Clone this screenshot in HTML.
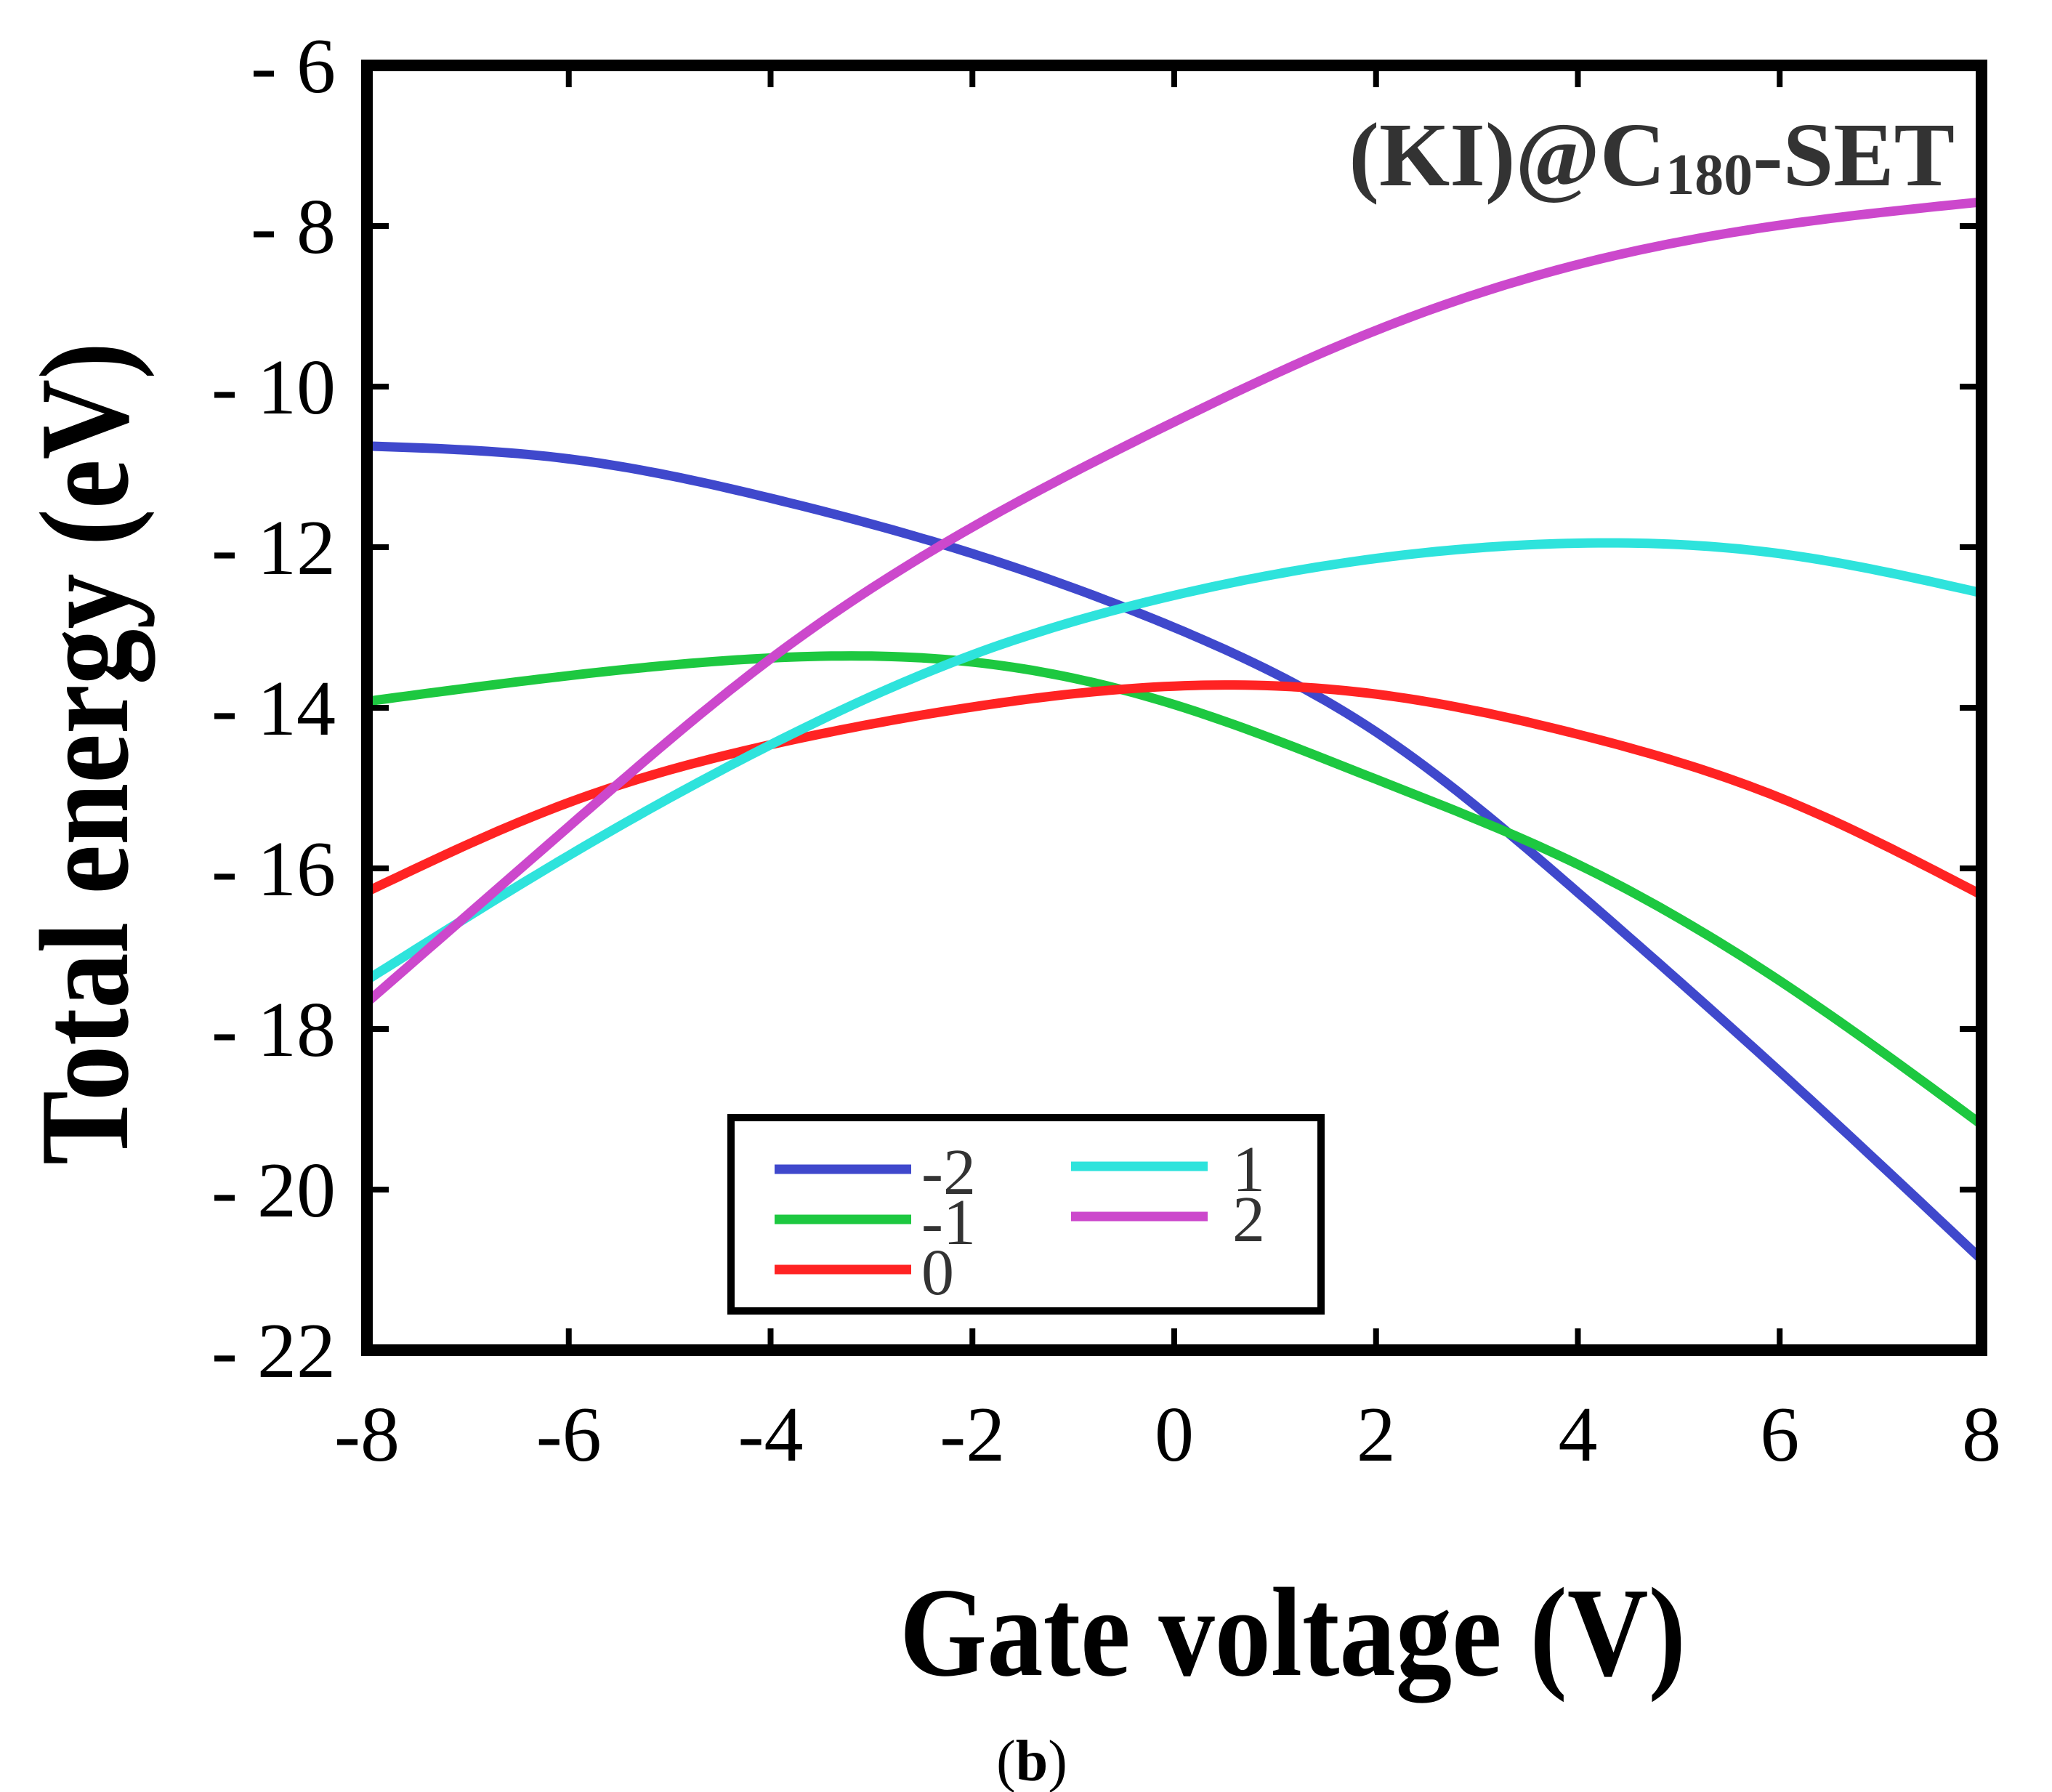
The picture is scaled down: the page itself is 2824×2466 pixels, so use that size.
<!DOCTYPE html>
<html><head><meta charset="utf-8"><style>
html,body{margin:0;padding:0;background:#fff;}
svg{display:block;}
</style></head><body>
<svg id="chart" width="2824" height="2466" viewBox="0 0 2824 2466" xmlns="http://www.w3.org/2000/svg" font-family="'Liberation Serif', serif">
<rect width="2824" height="2466" fill="#fff"/>
<g id="series"></g>
<g id="ticks"></g>
<rect x="505" y="90" width="2222" height="1768" fill="none" stroke="#000" stroke-width="16"/>
<text x="2690" y="255" text-anchor="end" font-weight="bold" font-size="125" fill="#333">(KI)@C<tspan font-size="80" dy="12">180</tspan><tspan dy="-12">-SET</tspan></text>
<g>
<rect x="1006" y="1538" width="812" height="266" fill="#fff" stroke="#000" stroke-width="10"/>
<g id="legend-items"></g>
</g>
<text transform="translate(175,1037) rotate(-90)" text-anchor="middle" font-weight="bold" font-size="175" textLength="1132" lengthAdjust="spacingAndGlyphs">Total energy (eV)</text>
<text x="1779" y="2305" text-anchor="middle" font-weight="bold" font-size="175" textLength="1082" lengthAdjust="spacingAndGlyphs">Gate voltage (V)</text>
<text x="1420" y="2450" text-anchor="middle" font-size="80">(<tspan font-weight="bold">b</tspan>)</text>
</svg>
<script>
const xTicks=[-8,-6,-4,-2,0,2,4,6,8];
const yTicks=[-6,-8,-10,-12,-14,-16,-18,-20,-22];
const voltages=[-8,-6,-4,-2,0,2,4,6,8];
const seriesNames=['-2','-1','0','1','2'];
const eMinus2=[-10.74,-10.9,-11.39,-12.08,-13.0,-14.3,-16.3,-18.53,-20.87];
const eMinus1=[-13.92,-13.6,-13.38,-13.43,-13.96,-14.89,-15.95,-17.4,-19.19];
const eZero=[-16.29,-15.18,-14.46,-13.99,-13.73,-13.83,-14.33,-15.12,-16.33];
const ePlus1=[-17.39,-15.84,-14.46,-13.34,-12.6,-12.14,-11.95,-12.08,-12.57];
const ePlus2=[-17.67,-15.48,-13.39,-11.75,-10.44,-9.3,-8.48,-7.99,-7.7];
const colors=['#3f48cc','#1dc840','#ff2323','#2ee3dc','#cc48cc'];
const NS='http://www.w3.org/2000/svg';
const X0=505,X1=2727,Y0=90,Y1=1858;
function sx(v){return X0+(v+8)/16*(X1-X0);}
function sy(v){return Y0+(-6-v)/16*(Y1-Y0);}
const ticksG=document.getElementById('ticks');
xTicks.forEach(t=>{
  const x=sx(t);
  [[Y1,Y1-30],[Y0,Y0+30]].forEach(p=>{
    const l=document.createElementNS(NS,'line');
    l.setAttribute('x1',x);l.setAttribute('x2',x);l.setAttribute('y1',p[0]);l.setAttribute('y2',p[1]);
    l.setAttribute('stroke','#000');l.setAttribute('stroke-width','8');
    
    
    ticksG.appendChild(l);
  });
  const tx=document.createElementNS(NS,'text');
  tx.setAttribute('x',x);tx.setAttribute('y',2010);tx.setAttribute('text-anchor','middle');tx.setAttribute('font-size','108');
  tx.textContent=t;
  
  
  ticksG.appendChild(tx);
});
yTicks.forEach(t=>{
  const y=sy(t);
  [[X0,X0+30],[X1,X1-30]].forEach(p=>{
    const l=document.createElementNS(NS,'line');
    l.setAttribute('y1',y);l.setAttribute('y2',y);l.setAttribute('x1',p[0]);l.setAttribute('x2',p[1]);
    l.setAttribute('stroke','#000');l.setAttribute('stroke-width','8');
    
    
    ticksG.appendChild(l);
  });
  const tx=document.createElementNS(NS,'text');
  tx.setAttribute('x',462);tx.setAttribute('y',y+37);tx.setAttribute('text-anchor','end');tx.setAttribute('font-size','108');
  tx.textContent='- '+Math.abs(t);
  
  
  ticksG.appendChild(tx);
});
// natural cubic spline through data points
function spline(xs,ys){
  const n=xs.length,h=[],al=[],l=[1],mu=[0],z=[0],c=new Array(n).fill(0),b=[],d=[];
  for(let i=0;i<n-1;i++)h.push(xs[i+1]-xs[i]);
  for(let i=1;i<n-1;i++)al[i]=3/h[i]*(ys[i+1]-ys[i])-3/h[i-1]*(ys[i]-ys[i-1]);
  for(let i=1;i<n-1;i++){l[i]=2*(xs[i+1]-xs[i-1])-h[i-1]*mu[i-1];mu[i]=h[i]/l[i];z[i]=(al[i]-h[i-1]*z[i-1])/l[i];}
  for(let j=n-2;j>=0;j--){c[j]=(j>0?z[j]:0)-mu[j]*c[j+1];b[j]=(ys[j+1]-ys[j])/h[j]-h[j]*(c[j+1]+2*c[j])/3;d[j]=(c[j+1]-c[j])/(3*h[j]);}
  return function(x){let i=Math.min(n-2,Math.max(0,xs.findIndex((v,k)=>k<n-1&&x<=xs[k+1])));const t=x-xs[i];return ys[i]+b[i]*t+c[i]*t*t+d[i]*t*t*t;};
}
function pathFor(vals){
  const f=spline(voltages,vals);
  let d='';
  const a=voltages[0],e=voltages[voltages.length-1];
  for(let k=0;k<=160;k++){const v=a+(e-a)*k/160;d+=(k?' L':'M')+sx(v).toFixed(1)+','+sy(f(v)).toFixed(1);}
  return d;
}
const allSeries=[eMinus2,eMinus1,eZero,ePlus1,ePlus2];
const sg=document.getElementById('series');
allSeries.forEach((vals,i)=>{
  const p=document.createElementNS(NS,'path');
  p.setAttribute('d',pathFor(vals));p.setAttribute('fill','none');
  p.setAttribute('stroke',colors[i]);p.setAttribute('stroke-width','13');p.setAttribute('stroke-linejoin','round');
  
  
  sg.appendChild(p);
});
const lg=document.getElementById('legend-items');
const legPos=[[1066,1609],[1066,1678],[1066,1747],[1474,1605],[1474,1674]];
seriesNames.forEach((n,i)=>{
  const [x,y]=legPos[i];
  const l=document.createElementNS(NS,'line');
  l.setAttribute('x1',x);l.setAttribute('x2',x+188);l.setAttribute('y1',y);l.setAttribute('y2',y);
  l.setAttribute('stroke',colors[i]);l.setAttribute('stroke-width','13');
  
  
  lg.appendChild(l);
  const t=document.createElementNS(NS,'text');
  t.setAttribute('x',i<3?x+202:x+222);t.setAttribute('y',y+34);t.setAttribute('font-size','90');t.setAttribute('fill','#333');
  t.textContent=n;
  
  
  lg.appendChild(t);
});
</script>
</body></html>
